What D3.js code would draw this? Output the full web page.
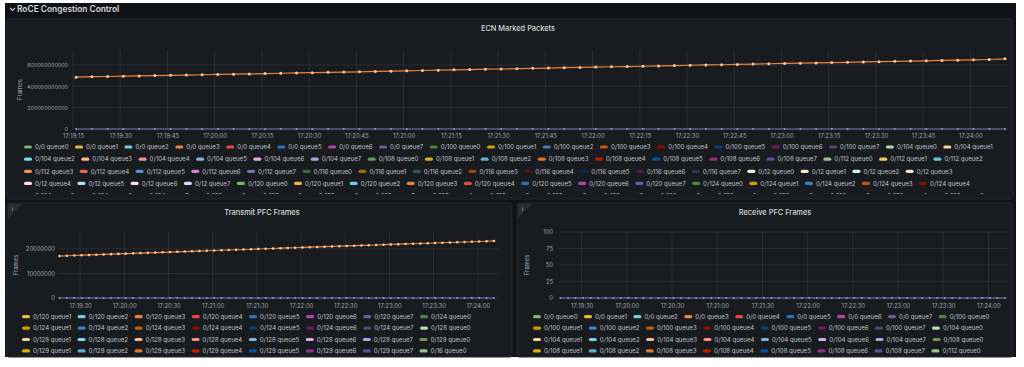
<!DOCTYPE html>
<html>
<head>
<meta charset="utf-8">
<script src="https://cdn.jsdelivr.net/npm/d3@7"></script>
<style>
  body { margin: 0; background: #ffffff; }
  svg text { font-family: Inter, "Noto Sans", sans-serif; }
</style>
</head>
<body>
<svg id="dash" width="1024" height="367"></svg>
<script>
// ---------------------------------------------------------------
// Data
// ---------------------------------------------------------------
const ports = ["0/0", "0/100", "0/104", "0/108", "0/112", "0/116", "0/12",
               "0/120", "0/124", "0/128", "0/129", "0/16", "0/20", "0/24"];
const queues = ["queue0", "queue1", "queue2", "queue3", "queue4", "queue5", "queue6", "queue7"];

// Grafana classic palette
const palette = ["#7EB26D","#EAB839","#6ED0E0","#EF843C","#E24D42","#1F78C1","#BA43A9","#705DA0",
  "#508642","#CCA300","#447EBC","#C15C17","#890F02","#0A437C","#6D1F62","#584477",
  "#B7DBAB","#F4D598","#70DBED","#F9BA8F","#F29191","#82B5D8","#E5A8E2","#AEA2E0",
  "#629E51","#E5AC0E","#64B0C8","#E0752D","#BF1B00","#0A50A1","#962D82","#614D93",
  "#9AC48A","#F2C96D","#65C5DB","#F9934E","#EA6460","#5195CE","#D683CE","#806EB7",
  "#3F6833","#967302","#2F575E","#99440A","#58140C","#052B51","#511749","#3F2B5B",
  "#E0F9D7","#FCEACA","#CFFAFF","#F9E2D2","#FCE2DE","#BADFF4","#F9D9F9","#DEDAF7"];

// samples every 5 s starting 17:19:16
const firstSample = new Date(2024, 0, 1, 17, 19, 16);
const sampleStep = 5; // seconds
const timeStart = new Date(2024, 0, 1, 17, 19, 15);
const timeEnd = new Date(2024, 0, 1, 17, 24, 11);

// ECN marked packets (x 1e9)
const ecnValues = [
  485, 490, 492, 495, 497, 500, 503, 505, 508, 511,
  514, 516, 519, 522, 525, 528, 531, 533, 536, 539,
  542, 545, 548, 551, 554, 557, 560, 562, 565, 568,
  571, 574, 577, 580, 583, 585, 588, 591, 594, 597,
  600, 602, 605, 608, 611, 614, 617, 619, 622, 625,
  628, 631, 634, 636, 639, 642, 645, 648, 651, 657];

// Transmit PFC frames (x 1e6)
const txValues = [
  17.10, 17.21, 17.32, 17.44, 17.55, 17.65, 17.76, 17.87, 17.98, 18.08,
  18.19, 18.30, 18.40, 18.51, 18.62, 18.72, 18.83, 18.93, 19.04, 19.14,
  19.25, 19.35, 19.46, 19.56, 19.67, 19.77, 19.87, 19.98, 20.08, 20.18,
  20.29, 20.39, 20.49, 20.60, 20.70, 20.80, 20.90, 21.01, 21.11, 21.21,
  21.31, 21.41, 21.51, 21.61, 21.72, 21.82, 21.92, 22.02, 22.12, 22.22,
  22.32, 22.42, 22.52, 22.62, 22.72, 22.82, 22.92, 23.02, 23.12, 23.25];

// idle queues, flat at zero
const idleValues = [
  0,0,0,0,0,0,0,0,0,0, 0,0,0,0,0,0,0,0,0,0, 0,0,0,0,0,0,0,0,0,0,
  0,0,0,0,0,0,0,0,0,0, 0,0,0,0,0,0,0,0,0,0, 0,0,0,0,0,0,0,0,0,0];

const ecnTicks = [0, 200e9, 400e9, 600e9];
const txTicks = [0, 10e6, 20e6];
const rxTicks = [0, 25, 50, 75, 100];

const seriesNames = ports.flatMap(p => queues.map(q => p + " " + q));
const times = ecnValues.map((v, i) => d3.timeSecond.offset(firstSample, i * sampleStep));

// ---------------------------------------------------------------
// Page
// ---------------------------------------------------------------
const svg = d3.select("#dash");
svg.append("rect").attr("x", 5).attr("y", 3).attr("width", 1011).attr("height", 354)
  .attr("fill", "#111217");

// row header
svg.append("path").attr("d", "M10,8 L12.5,10.5 L15,8")
  .attr("fill", "none").attr("stroke", "#c8c9cf").attr("stroke-width", 1.1);
svg.append("text").attr("x", 17).attr("y", 12)
  .attr("font-size", 8.4).attr("font-weight", 600).attr("fill", "#d8d9da")
  .text("RoCE Congestion Control");

const fmtTime = d3.timeFormat("%H:%M:%S");
const tickColor = "#a3a4ab";
const gridColor = "rgba(204,204,220,0.10)";
const legendFont = 6.1;

function drawPanel(p) {
  const g = svg.append("g");
  g.append("rect").attr("x", p.x).attr("y", p.y).attr("width", p.w).attr("height", p.h)
    .attr("rx", 2).attr("fill", "#181b1f").attr("stroke", "#24262c");

  if (p.corner) {
    g.append("path").attr("d", `M${p.x + 1},${p.y + 1} h14 L${p.x + 1},${p.y + 15} Z`).attr("fill", "#2b2d33");
    g.append("text").attr("x", p.x + 5).attr("y", p.y + 8).attr("font-size", 5).attr("fill", "#c8c9cf").text("i");
  }

  g.append("text").attr("x", p.titleX).attr("y", p.y + 12)
    .attr("text-anchor", "middle").attr("font-size", 7.4).attr("font-weight", 500)
    .attr("fill", "#d8d9da").text(p.title);

  const x = d3.scaleTime().domain([timeStart, timeEnd]).range(p.xRange);
  const y = d3.scaleLinear().domain(p.yDomain).range(p.yRange);
  const xt = x.ticks(d3.timeSecond.every(p.xEvery));

  // grid
  g.append("g").selectAll("line").data(xt).join("line")
    .attr("x1", d => x(d)).attr("x2", d => x(d))
    .attr("y1", p.yRange[1]).attr("y2", p.yRange[0])
    .attr("stroke", gridColor);
  g.append("g").selectAll("line").data(p.yTicks).join("line")
    .attr("x1", p.xRange[0]).attr("x2", p.xRange[1] + 4)
    .attr("y1", d => y(d)).attr("y2", d => y(d))
    .attr("stroke", gridColor);

  // axes
  const xa = g.append("g").attr("transform", `translate(0,${p.yRange[0]})`)
    .call(d3.axisBottom(x).tickValues(xt).tickFormat(fmtTime).tickSize(0).tickPadding(p.xPad));
  const ya = g.append("g").attr("transform", `translate(${p.xRange[0]},0)`)
    .call(d3.axisLeft(y).tickValues(p.yTicks).tickFormat(d3.format("d")).tickSize(0).tickPadding(p.yPad));
  [xa, ya].forEach(a => {
    a.select(".domain").remove();
    a.selectAll("text").attr("fill", tickColor)
      .style("font-size", "5.9px").style("font-family", "Inter, 'Noto Sans', sans-serif");
  });
  ya.selectAll("text").style("font-size", p.yFont + "px");

  g.append("text")
    .attr("transform", `translate(${p.labelX},${(p.yRange[0] + p.yRange[1]) / 2}) rotate(-90)`)
    .attr("text-anchor", "middle").attr("font-size", 6).attr("fill", tickColor)
    .text("Frames");

  // series
  const line = d3.line().x((d, i) => x(times[i])).y(d => y(d));
  p.series.forEach(s => {
    g.append("path").datum(s.values).attr("d", line)
      .attr("fill", "none").attr("stroke", s.color).attr("stroke-width", 1.2);
    g.append("g").selectAll("circle").data(s.values).join("circle")
      .attr("cx", (d, i) => x(times[i])).attr("cy", d => y(d))
      .attr("r", s.r).attr("fill", s.dot);
  });

  // legend
  const clipId = "clip" + p.title.replace(/\s/g, "");
  svg.append("clipPath").attr("id", clipId).append("rect")
    .attr("x", p.x).attr("y", p.legendY - 8).attr("width", p.w).attr("height", p.legendBottom - p.legendY + 8);
  const lg = g.append("g").attr("clip-path", `url(#${clipId})`);
  let lx = p.legendX, row = 0;
  for (let i = p.legendStart; i < seriesNames.length && row < p.legendRows; i++) {
    const name = seriesNames[i];
    const t = lg.append("text").attr("font-size", legendFont).attr("fill", "#c0c1c8").text(name);
    const tw = t.node().getComputedTextLength();
    if (lx + 11 + tw > p.legendMaxX) { row++; lx = p.legendX; }
    if (row >= p.legendRows) { t.remove(); break; }
    const ly = p.legendY + row * p.legendRowH;
    lg.append("rect").attr("x", lx).attr("y", ly - 1.6).attr("width", 8).attr("height", 3.2)
      .attr("rx", 1.6).attr("fill", palette[i % palette.length]);
    t.attr("x", lx + 11).attr("y", ly + 2.2);
    lx += 11 + tw + 6.5;
  }
}

const zeroSeries = { values: idleValues, color: "#806EB7", dot: "#9d8fd3", r: 1.0 };

drawPanel({
  title: "ECN Marked Packets", x: 7, y: 19, w: 1006, h: 180, titleX: 518,
  xRange: [73, 1005], yRange: [129, 50], yDomain: [0, 740e9], yTicks: ecnTicks,
  xEvery: 15, xPad: 5, yPad: 5, yFont: 5.4, labelX: 22,
  series: [zeroSeries, { values: ecnValues.map(v => v * 1e9), color: "#EF843C", dot: "#f8c89c", r: 1.5 }],
  legendStart: 0, legendX: 24, legendY: 147, legendRowH: 12.15, legendRows: 5,
  legendMaxX: 999, legendBottom: 194
});

drawPanel({
  title: "Transmit PFC Frames", x: 7, y: 203, w: 505, h: 154, titleX: 262, corner: true,
  xRange: [58, 494], yRange: [298, 232], yDomain: [0, 26.9e6], yTicks: txTicks,
  xEvery: 30, xPad: 6, yPad: 3, yFont: 5.8, labelX: 18,
  series: [zeroSeries, { values: txValues.map(v => v * 1e6), color: "#EF843C", dot: "#f8c89c", r: 1.3 }],
  legendStart: 57, legendX: 22, legendY: 316.7, legendRowH: 11.4, legendRows: 4,
  legendMaxX: 505, legendBottom: 356
});

drawPanel({
  title: "Receive PFC Frames", x: 517, y: 203, w: 496, h: 154, titleX: 775, corner: true,
  xRange: [559, 1005], yRange: [298, 232], yDomain: [0, 100], yTicks: rxTicks,
  xEvery: 30, xPad: 6, yPad: 6, yFont: 5.8, labelX: 529,
  series: [zeroSeries],
  legendStart: 0, legendX: 533, legendY: 316.7, legendRowH: 11.4, legendRows: 4,
  legendMaxX: 1008, legendBottom: 356
});
</script>
</body>
</html>
